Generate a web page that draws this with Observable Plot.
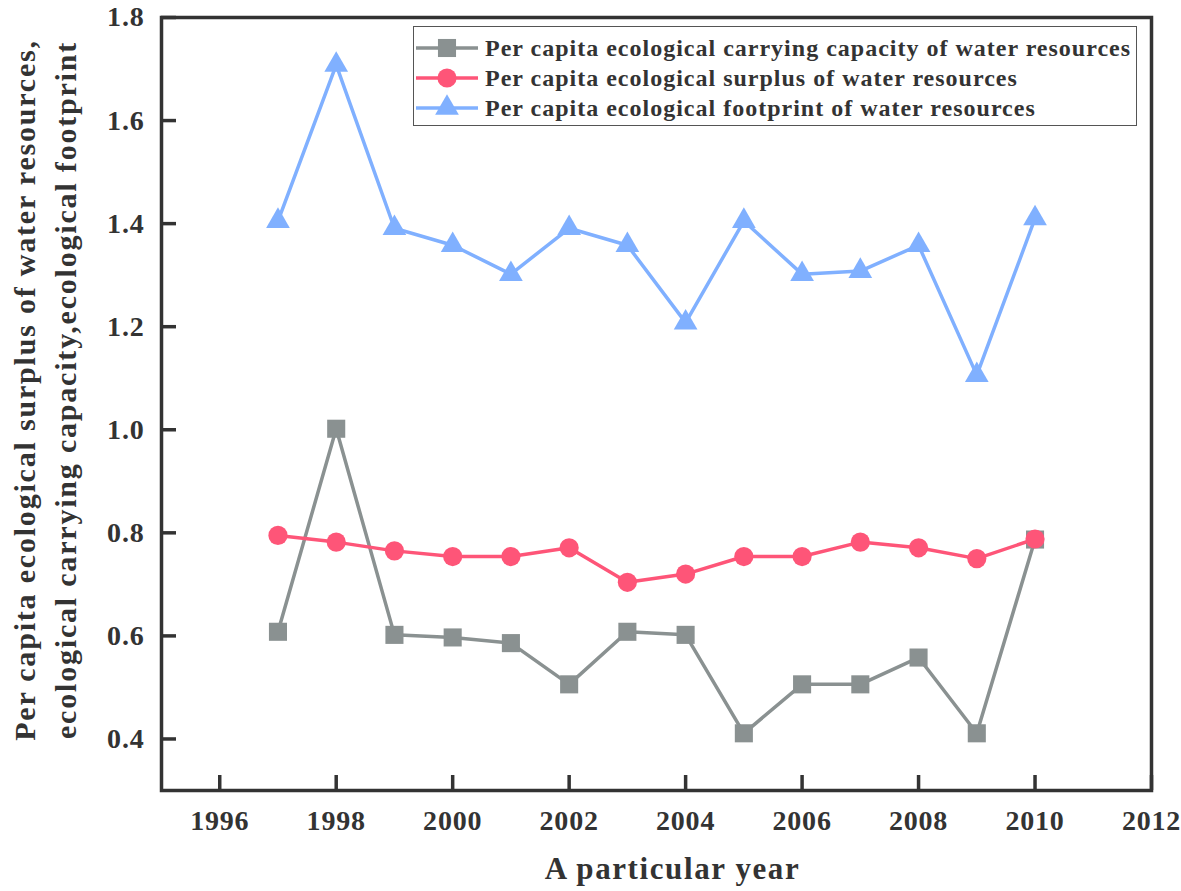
<!DOCTYPE html>
<html>
<head>
<meta charset="utf-8">
<script src="https://cdn.jsdelivr.net/npm/d3@7"></script>
<script src="https://cdn.jsdelivr.net/npm/@observablehq/plot@0.6"></script>
<style>
  html, body { margin: 0; padding: 0; background: #fff; }
  #wrap { position: relative; width: 1181px; height: 891px; font-family: "Liberation Serif", "Times New Roman", serif; }
  #legend { position: absolute; left: 413px; top: 26px; width: 724px; height: 100px; border: 1.5px solid #555; background: #fff; box-sizing: border-box; }
  #legend .row { position: absolute; left: 2px; height: 30px; display: flex; align-items: center; }
  #legend .lbl { font-weight: bold; font-size: 24px; letter-spacing: 1px; color: #333; margin-left: 7px; white-space: nowrap; }
  #ytitle { position: absolute; left: 0; top: 0; }
  #xtitle { position: absolute; left: 0; width: 1345px; top: 851px; text-align: center; font-weight: bold; font-size: 31px; letter-spacing: 1.6px; color: #333; }
  .tl text { letter-spacing: 0.8px; }
</style>
</head>
<body>
<div id="wrap"></div>
<script>
const years = [1997, 1998, 1999, 2000, 2001, 2002, 2003, 2004, 2005, 2006, 2007, 2008, 2009, 2010];
const carryingCapacity = [0.608, 1.002, 0.602, 0.597, 0.586, 0.506, 0.608, 0.602, 0.411, 0.506, 0.506, 0.558, 0.411, 0.787];
const surplus = [0.795, 0.782, 0.765, 0.754, 0.754, 0.771, 0.704, 0.720, 0.754, 0.754, 0.782, 0.771, 0.750, 0.788];
const footprint = [1.405, 1.708, 1.391, 1.358, 1.302, 1.391, 1.358, 1.208, 1.405, 1.302, 1.308, 1.358, 1.106, 1.410];
const seriesNames = [
  "Per capita ecological carrying capacity of water resources",
  "Per capita ecological surplus of water resources",
  "Per capita ecological footprint of water resources"
];
const seriesColors = ["#8a9191", "#fe5578", "#80b0ff"];
const seriesSymbols = ["square", "circle", "triangle"];
const xTicks = [1996, 1998, 2000, 2002, 2004, 2006, 2008, 2010, 2012];
const yTicks = [0.4, 0.6, 0.8, 1.0, 1.2, 1.4, 1.6, 1.8];
const xTitle = "A particular year";
const yTitleLines = ["Per capita ecological surplus of water resources,", "ecological carrying capacity,ecological footprint"];

const seriesValues = [carryingCapacity, surplus, footprint];
const symbolR = [10.2, 9.6, 8.8];
const data = seriesValues.flatMap((vals, i) => vals.map((v, j) => ({year: years[j], value: v, s: i})));

const axisColor = "#333";
const font = "'Liberation Serif', 'Times New Roman', serif";

const marks = [];
seriesValues.forEach((vals, i) => {
  const d = data.filter(p => p.s === i);
  marks.push(Plot.line(d, {x: "year", y: "value", stroke: seriesColors[i], strokeWidth: 3.5}));
});
seriesValues.forEach((vals, i) => {
  const d = data.filter(p => p.s === i);
  marks.push(Plot.dot(d, {x: "year", y: "value", fill: seriesColors[i], symbol: () => seriesSymbols[i], r: symbolR[i], stroke: "none"}));
});

const chart = Plot.plot({
  width: 1181,
  height: 891,
  marginLeft: 161,
  marginRight: 30,
  marginTop: 17,
  marginBottom: 101,
  style: {fontFamily: font, background: "#fff", color: axisColor},
  x: {domain: [1995, 2012], label: null},
  y: {domain: [0.3, 1.8], label: null},
  symbol: {domain: seriesSymbols, range: seriesSymbols},
  marks: [
    ...marks,
    Plot.axisX(xTicks, {anchor: "bottom", tickSize: -15, strokeWidth: 3.5, stroke: axisColor, tickFormat: () => "", label: null}),
    Plot.axisX(xTicks, {anchor: "bottom", tickSize: 0, tickPadding: 20, tickFormat: d => String(d), fontSize: 28, fontWeight: "bold", fill: axisColor, label: null, className: "tl"}),
    Plot.axisY(yTicks, {anchor: "left", tickSize: -15, strokeWidth: 3.5, stroke: axisColor, tickFormat: () => "", label: null}),
    Plot.axisY(yTicks, {anchor: "left", tickSize: 0, tickPadding: 17, tickFormat: d => d.toFixed(1), fontSize: 28, fontWeight: "bold", fill: axisColor, label: null, className: "tl"}),
    Plot.frame({stroke: axisColor, strokeWidth: 3.5})
  ]
});

const wrap = document.getElementById("wrap");
wrap.appendChild(chart);

// Y title (two rotated lines)
const ns = "http://www.w3.org/2000/svg";
const yt = document.createElementNS(ns, "svg");
yt.setAttribute("id", "ytitle");
yt.setAttribute("width", 100);
yt.setAttribute("height", 891);
const cy = 390;
yTitleLines.forEach((line, i) => {
  const t = document.createElementNS(ns, "text");
  const cx = 24 + i * 41;
  t.setAttribute("transform", `translate(${cx},${cy}) rotate(-90)`);
  t.setAttribute("text-anchor", "middle");
  t.setAttribute("dominant-baseline", "central");
  t.setAttribute("font-family", font);
  t.setAttribute("font-weight", "bold");
  t.setAttribute("font-size", 30);
  t.setAttribute("letter-spacing", "1.8");
  t.setAttribute("fill", axisColor);
  t.textContent = line;
  yt.appendChild(t);
});
wrap.appendChild(yt);

// X title
const xt = document.createElement("div");
xt.id = "xtitle";
xt.textContent = xTitle;
wrap.appendChild(xt);

// Legend
const lg = document.createElement("div");
lg.id = "legend";
seriesNames.forEach((name, i) => {
  const row = document.createElement("div");
  row.className = "row";
  row.style.top = (6 + i * 30) + "px";
  const sw = document.createElementNS(ns, "svg");
  sw.setAttribute("width", 62);
  sw.setAttribute("height", 30);
  const ln = document.createElementNS(ns, "line");
  ln.setAttribute("x1", 0); ln.setAttribute("x2", 62);
  ln.setAttribute("y1", 15); ln.setAttribute("y2", 15);
  ln.setAttribute("stroke", seriesColors[i]);
  ln.setAttribute("stroke-width", 3.5);
  sw.appendChild(ln);
  const p = document.createElementNS(ns, "path");
  const sym = [d3.symbolSquare, d3.symbolCircle, d3.symbolTriangle][i];
  p.setAttribute("d", d3.symbol(sym, Math.PI * symbolR[i] * symbolR[i])());
  p.setAttribute("transform", "translate(31,15)");
  p.setAttribute("fill", seriesColors[i]);
  sw.appendChild(p);
  row.appendChild(sw);
  const lbl = document.createElement("span");
  lbl.className = "lbl";
  lbl.textContent = name;
  row.appendChild(lbl);
  lg.appendChild(row);
});
wrap.appendChild(lg);
</script>
</body>
</html>
